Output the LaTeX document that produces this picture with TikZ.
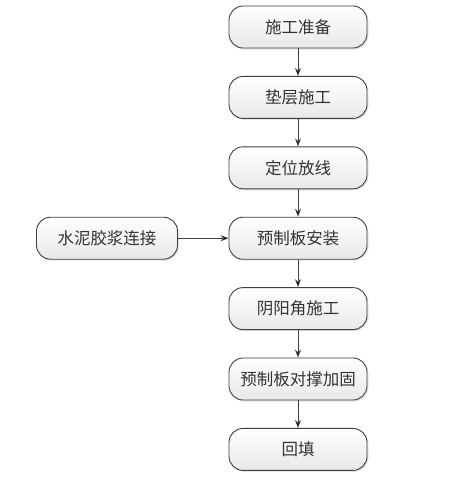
\documentclass[tikz,border=0pt]{standalone}
\usepackage{fontspec}
\setmainfont{Noto Sans CJK SC}
\usetikzlibrary{positioning,shadows,arrows.meta}
\definecolor{boxline}{HTML}{404040}
\definecolor{boxtext}{HTML}{333333}
\tikzset{
  stepbox/.style={draw=boxline, line width=0.9pt, rounded corners=14pt,
    minimum width=138pt, minimum height=42pt, top color=white, bottom color=black!9,
    drop shadow={shadow xshift=1.5pt, shadow yshift=-1.5pt, opacity=0.2},
    text=boxtext, font=\fontsize{16.5}{18}\selectfont},
  flow/.style={-{Stealth[length=8pt,width=6pt]}, draw=boxline, line width=0.8pt}
}
\begin{document}
\begin{tikzpicture}[node distance = 70.4pt, auto]
\useasboundingbox [fill=white] (0,0) rectangle (464pt,-483pt);
\node (1) [stepbox] at (298pt,-27pt) {施工准备};
\node (2) [stepbox, below of=1] {垫层施工};
\node (3) [stepbox, below of=2] {定位放线};
\node (4) [stepbox, below of=3] {预制板安装};
\node (5) [stepbox, below of=4] {阴阳角施工};
\node (6) [stepbox, below of=5] {预制板对撑加固};
\node (7) [stepbox, below of=6] {回填};
\node (8) [stepbox, minimum width=141pt, left of=4, node distance=191pt] {水泥胶浆连接};

\path [flow] (1) edge node {} (2);
\path [flow] (2) edge node {} (3);
\path [flow] (3) edge node {} (4);
\path [flow] (4) edge node {} (5);
\path [flow] (5) edge node {} (6);
\path [flow] (6) edge node {} (7);
\path [flow] (8) edge node {} (4);
\end{tikzpicture}
\end{document}
